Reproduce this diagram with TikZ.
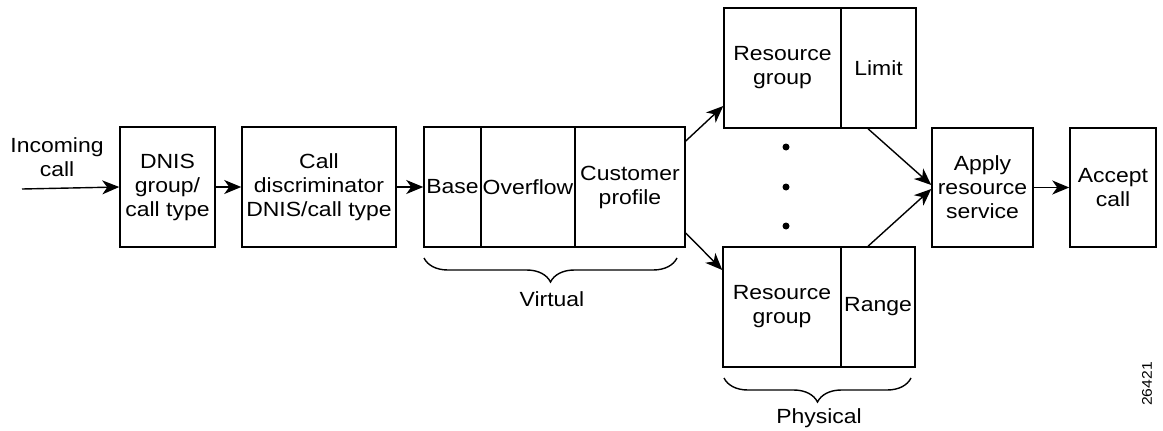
\documentclass[tikz,border=0pt]{standalone}
\usepackage{fontspec}
\setmainfont[FakeStretch=1.12]{Liberation Sans}
\usetikzlibrary{arrows.meta,decorations.pathreplacing}
\tikzset{
  box/.style={draw, line width=1.5pt, inner sep=0pt, align=center, font=\fontsize{20.5}{24}\selectfont},
  lbl/.style={inner sep=0pt, align=center, font=\fontsize{20.5}{24}\selectfont},
  arr/.style={line width=1.4pt, -{Stealth[length=17pt,width=14pt,inset=5pt]}},
  brc/.style={line width=1.4pt, decorate, decoration={brace, amplitude=24pt, mirror}},
  dot/.style={circle, fill, inner sep=0pt, minimum size=7pt}
}
\begin{document}
\begin{tikzpicture}[x=1pt,y=-1pt]
\useasboundingbox (0,0) rectangle (1163,431);
% left flow
\node[lbl] (inc) at (57,157) {Incoming\\call};
\coordinate (start) at (22,189);
\node[box, minimum width=95pt, minimum height=120pt] (dnis) at (167.5,187) {DNIS\\group/\\call type};
\node[box, minimum width=154pt, minimum height=120pt] (disc) at (319,187) {Call\\discriminator\\DNIS/call type};
% virtual
\node[box, minimum width=57pt, minimum height=120pt] (base) at (452.5,187) {Base};
\node[box, minimum width=94pt, minimum height=120pt] (over) at (528,187) {Overflow};
\node[box, minimum width=110pt, minimum height=120pt] (cust) at (630,187) {Customer\\profile};
% physical
\node[box, minimum width=117pt, minimum height=120pt] (rg1) at (782.5,68) {Resource\\group};
\node[box, minimum width=75pt, minimum height=120pt] (lim) at (878.5,68) {Limit};
\node[box, minimum width=118pt, minimum height=120pt] (rg2) at (782,307) {Resource\\group};
\node[box, minimum width=74pt, minimum height=120pt] (rng) at (878,307) {Range};
\node[dot] (d1) at (786,147) {};
\node[dot] (d2) at (786,187) {};
\node[dot] (d3) at (786,226) {};
% right
\node[box, minimum width=101pt, minimum height=119pt] (apply) at (982.5,187.5) {Apply\\resource\\service};
\node[box, minimum width=86pt, minimum height=119pt] (acc) at (1113,187.5) {Accept\\call};
% arrows
\draw[arr] (start) -- (dnis.west);
\draw[arr] (dnis.east) -- (disc.west);
\draw[arr] (disc.east) -- (base.west);
\draw[arr] ([yshift=46pt]cust.east) -- ([yshift=-38pt]rg1.west);
\draw[arr] ([yshift=-46pt]cust.east) -- ([yshift=37pt]rg2.west);
\draw[arr] ([xshift=-10.5pt]lim.south) -- ([yshift=2.5pt]apply.west);
\draw[arr] ([xshift=-10pt]rng.north) -- ([yshift=-1.5pt]apply.west);
\draw[arr] (apply.east) -- (acc.west);
% braces
\coordinate (v1) at (424,258);
\coordinate (v2) at (677,258);
\draw[brc] (v1) -- (v2);
\node[lbl] (virt) at (552,299) {Virtual};
\coordinate (p1) at (724,378);
\coordinate (p2) at (911,378);
\draw[brc] (p1) -- (p2);
\node[lbl] (phys) at (819,418) {Physical};
\node[inner sep=0pt, rotate=90, font=\fontsize{14}{16}\selectfont] (num) at (1147,384) {26421};
\end{tikzpicture}
\end{document}
